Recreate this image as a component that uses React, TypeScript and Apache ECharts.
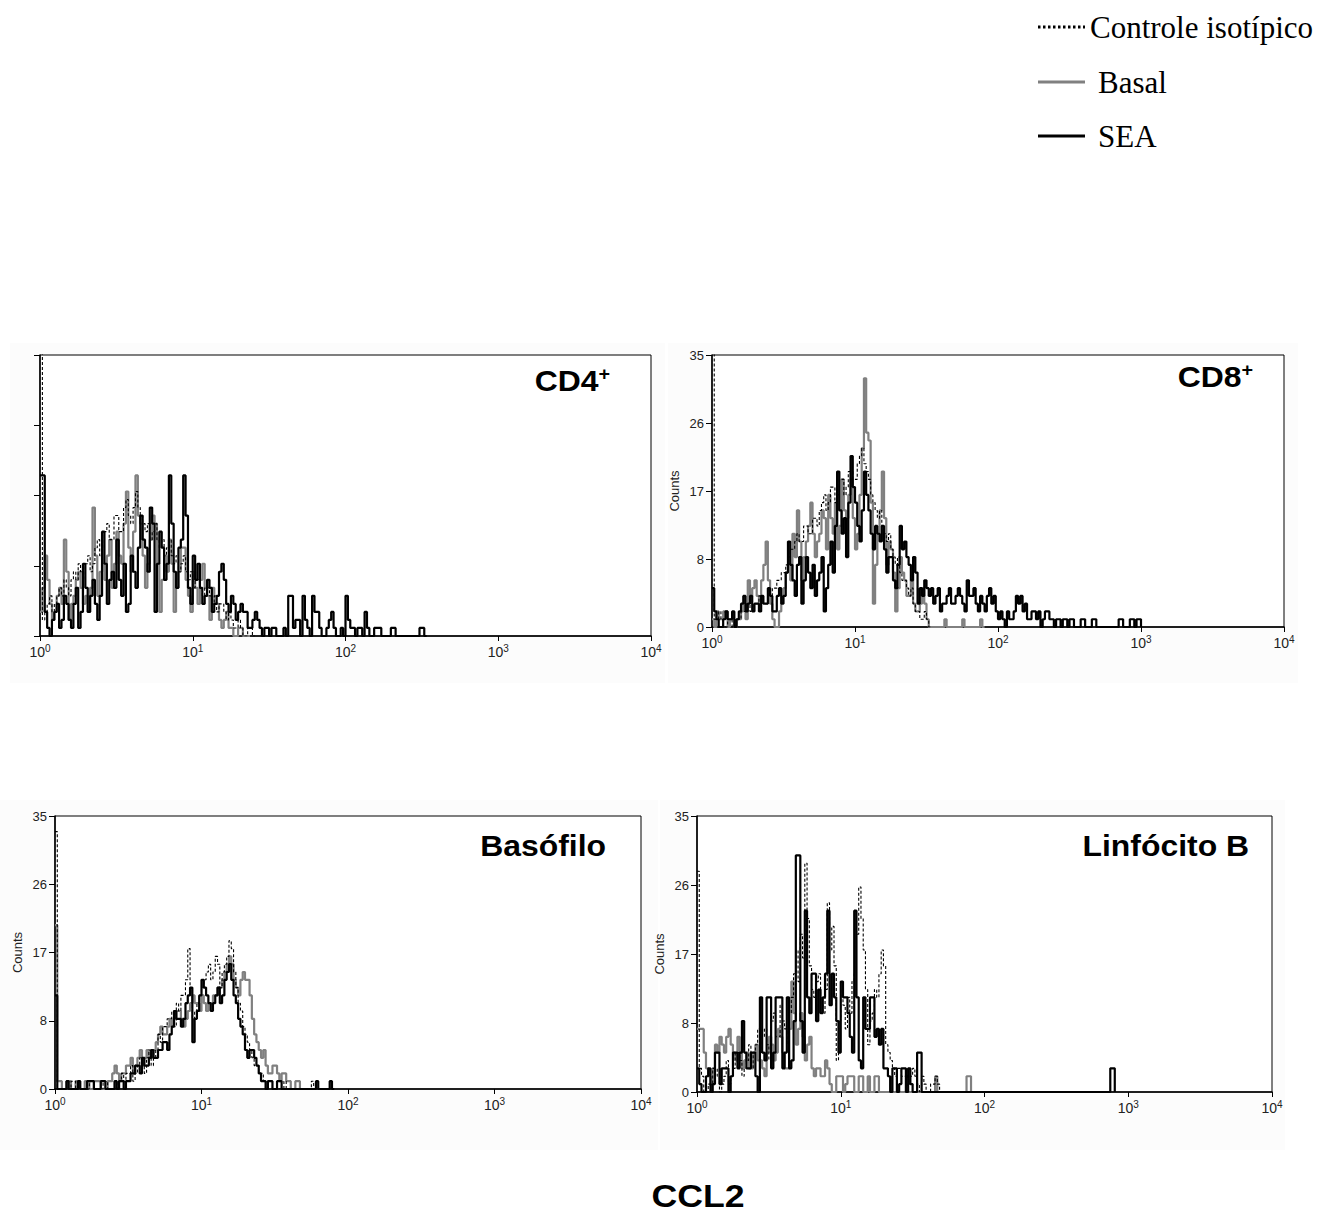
import React, { useEffect, useRef } from "react";
import * as echarts from "echarts";

// Histogram bins: 64 bins per decade, bin i sits at 10^(i/64)
const BINS_PER_DECADE = 64;
const X_TICKS = [1, 10, 100, 1000, 10000];
const Y_TICKS = [0, 8, 17, 26, 35];
const SERIES_NAMES = ["Controle isotípico", "Basal", "SEA"];

// CD4+
const cd4Iso = [60, 2, 3, 4, 5, 3, 4, 5, 6, 5, 7, 6, 5, 7, 8, 7, 9, 8, 7, 9, 10, 8, 9, 11, 12, 10, 11, 13, 14, 12, 12, 15, 15, 13, 13, 16, 17, 15, 14, 16, 18, 16, 15, 14, 13, 14, 12, 13, 14, 12, 11, 12, 10, 11, 12, 10, 9, 10, 8, 9, 10, 8, 7, 8, 6, 7, 7, 6, 5, 6, 6, 5, 4, 5, 3, 4, 4, 3, 2, 3, 2, 1, 1, 2, 1, 0, 0, 1, 1, 0, 0];
const cd4Basal = [3, 6, 10, 7, 4, 2, 3, 5, 6, 4, 12, 8, 2, 4, 5, 7, 8, 6, 4, 5, 3, 6, 16, 10, 5, 8, 9, 7, 10, 12, 6, 9, 13, 10, 9, 14, 18, 11, 8, 13, 20, 15, 14, 10, 6, 9, 12, 15, 14, 9, 3, 7, 10, 8, 12, 9, 3, 6, 8, 11, 11, 7, 5, 3, 8, 6, 4, 7, 9, 6, 5, 2, 6, 4, 4, 2, 1, 2, 3, 1, 1, 0, 0, 1, 1, 0, 0, 0, 0];
const cd4Sea = [20, 20, 3, 1, 0, 2, 3, 4, 1, 2, 5, 4, 2, 1, 4, 6, 1, 3, 9, 6, 3, 5, 7, 4, 2, 5, 13, 9, 4, 7, 8, 6, 12, 7, 5, 9, 3, 4, 10, 8, 6, 11, 15, 12, 11, 8, 16, 14, 3, 9, 13, 11, 7, 9, 20, 14, 8, 6, 11, 12, 20, 15, 6, 4, 10, 7, 9, 6, 4, 5, 7, 6, 3, 4, 5, 8, 9, 7, 4, 3, 5, 4, 2, 3, 4, 3, 3, 1, 1, 2, 3, 2, 1, 0, 1, 1, 0, 1, 1, 0, 0, 0, 1, 0, 5, 5, 1, 2, 2, 0, 5, 2, 1, 0, 5, 3, 3, 1, 0, 0, 1, 2, 3, 1, 0, 0, 1, 0, 5, 2, 1, 1, 0, 1, 1, 0, 3, 1, 0, 0, 1, 1, 1, 0, 0, 0, 0, 1, 1, 0, 0, 0, 0, 0, 0, 0, 0, 0, 0, 1, 1, 0, 0];

// CD8+
const cd8Iso = [60, 1, 1, 2, 1, 0, 0, 1, 1, 0, 0, 1, 1, 2, 2, 3, 3, 2, 2, 3, 3, 4, 4, 3, 3, 5, 4, 5, 5, 6, 6, 7, 7, 8, 9, 10, 10, 11, 12, 11, 11, 13, 13, 12, 12, 14, 14, 13, 15, 16, 17, 15, 16, 18, 18, 16, 17, 19, 19, 17, 18, 20, 20, 19, 19, 21, 22, 23, 21, 20, 19, 17, 16, 15, 14, 15, 13, 12, 11, 12, 10, 9, 8, 9, 7, 6, 6, 5, 4, 5, 3, 2, 2, 1, 1, 2, 1, 0, 0];
const cd8Basal = [1, 0, 2, 1, 1, 2, 2, 0, 1, 1, 0, 1, 1, 2, 3, 1, 6, 4, 5, 6, 4, 3, 6, 8, 11, 6, 3, 1, 0, 0, 2, 4, 5, 7, 8, 6, 12, 9, 15, 11, 6, 9, 11, 13, 16, 12, 9, 11, 12, 15, 14, 10, 17, 14, 12, 16, 10, 13, 19, 15, 14, 17, 19, 14, 10, 12, 17, 23, 32, 25, 24, 16, 3, 8, 12, 15, 20, 14, 8, 11, 10, 7, 2, 5, 9, 7, 6, 4, 4, 6, 3, 2, 2, 3, 5, 3, 1, 0, 0, 0, 0, 0, 0, 0, 1, 0, 0, 0, 0, 0, 0, 0, 1, 0, 0, 0, 0, 0, 0, 0, 1, 0, 0];
const cd8Sea = [5, 2, 1, 0, 0, 1, 2, 1, 1, 2, 0, 1, 2, 3, 4, 2, 3, 4, 2, 3, 3, 2, 4, 3, 3, 5, 4, 2, 2, 4, 5, 3, 4, 7, 11, 8, 6, 4, 8, 9, 3, 6, 9, 7, 5, 8, 4, 6, 7, 9, 2, 5, 8, 11, 7, 13, 20, 15, 12, 14, 9, 16, 22, 18, 16, 13, 11, 15, 20, 17, 15, 12, 10, 13, 12, 11, 13, 10, 7, 9, 9, 6, 5, 8, 13, 10, 11, 9, 8, 6, 9, 7, 3, 5, 4, 6, 5, 4, 5, 3, 4, 5, 2, 3, 3, 4, 5, 3, 3, 4, 5, 4, 3, 2, 6, 4, 4, 5, 3, 2, 4, 3, 2, 4, 5, 3, 4, 2, 1, 2, 1, 0, 2, 1, 1, 2, 4, 3, 4, 2, 3, 1, 1, 2, 2, 1, 2, 0, 1, 2, 2, 1, 1, 0, 1, 1, 0, 1, 1, 0, 1, 1, 0, 0, 0, 1, 1, 0, 0, 0, 1, 1, 0, 0, 0, 0, 0, 0, 0, 0, 0, 0, 1, 1, 0, 0, 0, 1, 1, 0, 1, 1, 0];

// Basófilo
const basoIso = [33, 0, 0, 0, 0, 0, 0, 1, 1, 0, 0, 0, 0, 0, 0, 1, 1, 0, 0, 0, 0, 1, 1, 0, 0, 0, 0, 1, 1, 2, 1, 2, 2, 3, 1, 2, 3, 4, 3, 2, 4, 5, 3, 4, 5, 7, 6, 8, 8, 9, 9, 10, 8, 11, 10, 12, 12, 14, 18, 13, 9, 10, 11, 12, 13, 14, 15, 16, 14, 15, 17, 16, 13, 15, 16, 17, 19, 18, 15, 13, 11, 10, 8, 7, 6, 5, 4, 3, 3, 2, 2, 1, 1, 1, 1, 0, 0, 0, 0, 0, 1, 0, 0, 0, 0, 0, 0, 0, 0, 0, 0, 0, 1, 0, 0];
const basoBasal = [21, 1, 1, 0, 0, 1, 1, 0, 0, 1, 1, 0, 0, 1, 1, 0, 0, 1, 1, 1, 0, 0, 0, 1, 1, 2, 3, 2, 1, 2, 2, 3, 3, 4, 2, 3, 4, 5, 3, 4, 5, 4, 4, 5, 6, 7, 8, 7, 7, 8, 9, 8, 9, 10, 10, 9, 8, 9, 10, 11, 12, 11, 11, 10, 12, 11, 10, 11, 11, 12, 12, 13, 13, 14, 15, 16, 17, 16, 14, 13, 12, 14, 15, 14, 14, 12, 9, 7, 6, 5, 4, 5, 3, 2, 2, 3, 3, 2, 1, 2, 2, 1, 1, 0, 0, 1, 1, 0, 0];
const basoSea = [12, 0, 0, 0, 0, 1, 0, 0, 0, 0, 1, 0, 0, 0, 1, 1, 1, 0, 0, 0, 1, 1, 0, 0, 0, 0, 1, 0, 1, 1, 0, 1, 1, 2, 2, 3, 3, 2, 4, 3, 3, 4, 5, 4, 4, 5, 5, 6, 6, 5, 7, 8, 10, 9, 9, 8, 9, 11, 12, 13, 6, 9, 10, 12, 14, 13, 12, 11, 10, 11, 12, 13, 11, 12, 14, 15, 16, 14, 12, 11, 9, 8, 7, 5, 4, 5, 5, 4, 3, 2, 1, 1, 0, 1, 1, 0, 0, 1, 1, 0, 0, 0, 0, 0, 0, 0, 0, 0, 0, 0, 0, 0, 0, 0, 1, 0, 0, 0, 0, 0, 1, 0, 0];

// Linfócito B
const lbIso = [28, 3, 2, 0, 0, 1, 1, 3, 3, 2, 0, 1, 2, 4, 1, 2, 3, 5, 5, 4, 2, 3, 4, 6, 3, 5, 6, 8, 5, 7, 8, 6, 4, 9, 10, 7, 7, 11, 9, 8, 6, 10, 12, 15, 18, 14, 20, 17, 29, 22, 16, 13, 12, 14, 15, 11, 10, 13, 24, 18, 21, 16, 4, 9, 13, 11, 8, 12, 10, 14, 15, 20, 26, 22, 18, 13, 6, 9, 10, 13, 12, 15, 18, 16, 6, 5, 4, 3, 2, 3, 3, 2, 2, 1, 1, 2, 3, 2, 1, 0, 2, 1, 0, 0, 1, 1, 2, 1, 0];
const lbBasal = [8, 8, 8, 5, 3, 2, 1, 3, 6, 5, 7, 6, 5, 7, 8, 6, 5, 4, 7, 5, 3, 4, 5, 3, 3, 5, 6, 4, 4, 3, 2, 5, 7, 6, 4, 5, 8, 7, 5, 3, 3, 8, 14, 10, 6, 8, 10, 7, 4, 6, 7, 3, 2, 3, 3, 2, 2, 4, 3, 1, 0, 0, 2, 2, 2, 0, 1, 2, 2, 2, 0, 0, 2, 2, 0, 0, 2, 0, 0, 2, 2, 0, 0, 0, 0, 0, 0, 0, 0, 0, 0, 0, 0, 0, 0, 0, 0, 0, 0, 0, 0, 0, 0, 0, 0, 0, 2, 0, 0, 0, 0, 0, 0, 0, 0, 0, 0, 0, 0, 0, 2, 2, 0];
const lbSea = [3, 1, 0, 0, 2, 3, 0, 1, 5, 5, 1, 3, 3, 3, 0, 2, 5, 5, 3, 5, 9, 5, 3, 3, 5, 5, 2, 0, 12, 5, 4, 12, 12, 3, 5, 12, 12, 12, 3, 5, 12, 3, 4, 9, 30, 30, 9, 5, 23, 12, 10, 15, 15, 9, 13, 10, 12, 15, 23, 11, 15, 12, 9, 5, 14, 12, 12, 10, 7, 5, 23, 12, 4, 3, 12, 8, 8, 12, 12, 7, 8, 6, 8, 3, 3, 2, 0, 3, 3, 0, 1, 3, 3, 0, 3, 1, 0, 0, 5, 5, 0, 0, 0, 0, 0, 0, 0, 0, 0, 0, 0, 0, 0, 0, 0, 0, 0, 0, 0, 0, 0, 0, 0, 0, 0, 0, 0, 0, 0, 0, 0, 0, 0, 0, 0, 0, 0, 0, 0, 0, 0, 0, 0, 0, 0, 0, 0, 0, 0, 0, 0, 0, 0, 0, 0, 0, 0, 0, 0, 0, 0, 0, 0, 0, 0, 0, 0, 0, 0, 0, 0, 0, 0, 0, 0, 0, 0, 0, 0, 0, 0, 0, 0, 0, 3, 3, 0];

const panelLabels = ["CD4", "CD8", "Basófilo", "Linfócito B"];

const toPoints = (arr: number[]) =>
  arr.map((v, i) => [Math.pow(10, i / BINS_PER_DECADE), v]);

export default function App() {
  const ref = useRef<HTMLDivElement>(null);

  useEffect(() => {
    document.body.style.margin = "0";
    if (!ref.current) return;
    const chart = echarts.init(ref.current, undefined, { renderer: "svg" });

    const panels = [
      { grid: { left: 40, top: 355, width: 611, height: 281 }, showY: false, data: [cd4Iso, cd4Basal, cd4Sea] },
      { grid: { left: 712, top: 355, width: 572, height: 272 }, showY: true, data: [cd8Iso, cd8Basal, cd8Sea] },
      { grid: { left: 55, top: 816, width: 586, height: 273 }, showY: true, data: [basoIso, basoBasal, basoSea] },
      { grid: { left: 697, top: 816, width: 575, height: 276 }, showY: true, data: [lbIso, lbBasal, lbSea] },
    ];

    const axisFont = "'Liberation Sans', Arial, sans-serif";

    const grids = panels.map((p) => ({
      ...p.grid,
      show: true,
      borderColor: "#000",
      borderWidth: 1,
      backgroundColor: "#ffffff",
    }));

    const xAxes = panels.map((p, k) => ({
      type: "log",
      logBase: 10,
      gridIndex: k,
      min: X_TICKS[0],
      max: X_TICKS[X_TICKS.length - 1],
      axisLine: { show: true, lineStyle: { color: "#000", width: 1.5 } },
      axisTick: { show: true, length: 5, lineStyle: { color: "#000" } },
      splitLine: { show: false },
      axisLabel: {
        show: true,
        showMinLabel: true,
        showMaxLabel: true,
        margin: 7,
        color: "#222",
        fontFamily: axisFont,
        formatter: (v: number) => `{b|10}{s|${Math.round(Math.log10(v))}}`,
        rich: {
          b: { fontSize: 14, fontFamily: axisFont, color: "#222" },
          s: { fontSize: 10, fontFamily: axisFont, color: "#222", padding: [0, 0, 7, 0] },
        },
      },
    }));

    const yAxes = panels.map((p, k) => ({
      type: "value",
      gridIndex: k,
      min: Y_TICKS[0],
      max: Y_TICKS[Y_TICKS.length - 1],
      interval: 8.75,
      name: p.showY ? "Counts" : "",
      nameLocation: "middle",
      nameGap: 31,
      nameRotate: 90,
      nameTextStyle: { fontSize: 13, fontFamily: axisFont, color: "#222" },
      axisLine: { show: true, lineStyle: { color: "#000", width: 1.5 } },
      axisTick: { show: true, length: 6, lineStyle: { color: "#000" } },
      splitLine: { show: false },
      axisLabel: {
        show: p.showY,
        margin: 8,
        fontSize: 13,
        fontFamily: axisFont,
        color: "#222",
        formatter: (v: number) => String(Math.floor(v + 1e-6)),
      },
    }));

    const styles = [
      { color: "#000", width: 1.1, type: [3, 2] },
      { color: "#808080", width: 2.2, type: "solid" },
      { color: "#000", width: 2.2, type: "solid" },
    ];
    const order = [1, 2, 0];

    const series: any[] = [];
    panels.forEach((p, k) => {
      order.forEach((s) => {
        series.push({
          name: SERIES_NAMES[s],
          type: "line",
          xAxisIndex: k,
          yAxisIndex: k,
          step: "end",
          showSymbol: false,
          symbol: "none",
          clip: true,
          data: toPoints(p.data[s]),
          lineStyle: { ...styles[s] },
          itemStyle: { color: styles[s].color },
          z: 2 + order.indexOf(s),
        });
      });
    });

    const labelFont = "'Liberation Sans', Arial, sans-serif";
    const sup = (base: string, right: number, y: number) => ({
      type: "text",
      x: right,
      y,
      scaleX: 1.1,
      style: {
        text: `{a|${base}}{b|+}`,
        textAlign: "right",
        textVerticalAlign: "middle",
        rich: {
          a: { fontSize: 29, fontWeight: "bold", fontFamily: labelFont, fill: "#000" },
          b: { fontSize: 18, fontWeight: "bold", fontFamily: labelFont, fill: "#000", padding: [0, 0, 15, 0] },
        },
      },
      z: 100,
    });
    const plainLabel = (t: string, right: number, y: number) => ({
      type: "text",
      x: right,
      y,
      scaleX: 1.1,
      style: {
        text: t,
        textAlign: "right",
        textVerticalAlign: "middle",
        fontSize: 29,
        fontWeight: "bold",
        fontFamily: labelFont,
        fill: "#000",
      },
      z: 100,
    });

    const serif = "'Liberation Serif', 'Times New Roman', serif";
    const legendRows = [
      { y: 27, text: SERIES_NAMES[0], tx: 1090, line: { stroke: "#000", lineWidth: 3, lineDash: [2.5, 2.5] } },
      { y: 82, text: SERIES_NAMES[1], tx: 1098, line: { stroke: "#808080", lineWidth: 3 } },
      { y: 136, text: SERIES_NAMES[2], tx: 1098, line: { stroke: "#000", lineWidth: 3 } },
    ];

    const graphic: any[] = [
      { type: "rect", shape: { x: 10, y: 343, width: 655, height: 340 }, style: { fill: "#fcfcfc" }, z: -10 },
      { type: "rect", shape: { x: 668, y: 343, width: 630, height: 340 }, style: { fill: "#fcfcfc" }, z: -10 },
      { type: "rect", shape: { x: 0, y: 800, width: 658, height: 350 }, style: { fill: "#fcfcfc" }, z: -10 },
      { type: "rect", shape: { x: 660, y: 800, width: 625, height: 350 }, style: { fill: "#fcfcfc" }, z: -10 },
      sup(panelLabels[0], 610, 381),
      sup(panelLabels[1], 1253, 377),
      plainLabel(panelLabels[2], 606, 846),
      plainLabel(panelLabels[3], 1249, 846),
      {
        type: "text",
        x: 698,
        y: 1196,
        scaleX: 1.15,
        style: {
          text: "CCL2",
          textAlign: "center",
          textVerticalAlign: "middle",
          fontSize: 31,
          fontWeight: "bold",
          fontFamily: labelFont,
          fill: "#000",
        },
      },
    ];
    legendRows.forEach((r) => {
      graphic.push({
        type: "line",
        shape: { x1: 1038, y1: r.y, x2: 1085, y2: r.y },
        style: { ...r.line },
      });
      graphic.push({
        type: "text",
        x: r.tx,
        y: r.y,
        style: {
          text: r.text,
          textAlign: "left",
          textVerticalAlign: "middle",
          fontSize: 31,
          fontFamily: serif,
          fill: "#000",
        },
      });
    });

    chart.setOption({
      animation: false,
      backgroundColor: "#ffffff",
      grid: grids,
      xAxis: xAxes,
      yAxis: yAxes,
      series,
      graphic,
    });

    return () => chart.dispose();
  }, []);

  return <div ref={ref} style={{ width: 1336, height: 1223 }} />;
}
